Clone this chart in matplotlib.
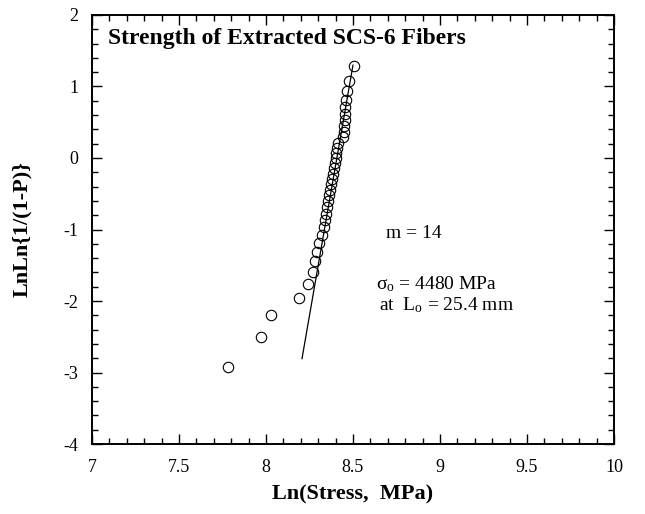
"""
Weibull plot of extracted SCS-6 fiber strengths
"""

import matplotlib
matplotlib.use('Agg')
import matplotlib.pyplot as plt
from matplotlib.ticker import MultipleLocator
import numpy as np

# ln(stress) and ln ln(1/(1-P))
ln_stress = [7.78, 7.97, 8.03, 8.19, 8.24, 8.27, 8.28, 8.295, 8.305, 8.32,
             8.333, 8.337, 8.345, 8.350, 8.358, 8.362, 8.369, 8.373, 8.380, 8.383,
             8.392, 8.394, 8.401, 8.404, 8.411, 8.416, 8.440, 8.448, 8.451, 8.452,
             8.455, 8.456, 8.458, 8.463, 8.475, 8.505]
lnln_p = [-2.918, -2.498, -2.196, -1.959, -1.761, -1.592, -1.442, -1.308, -1.186, -1.074,
          -0.969, -0.871, -0.778, -0.689, -0.604, -0.523, -0.443, -0.367, -0.291, -0.218,
          -0.145, -0.073, -0.002, 0.070, 0.142, 0.215, 0.289, 0.365, 0.443, 0.526,
          0.613, 0.707, 0.812, 0.932, 1.080, 1.291]

# fitted Weibull line
weibull_m = 14
sigma_0 = 4480  # MPa
fit_x = [8.207, 8.50]

plt.rcParams['font.family'] = ['Liberation Serif', 'DejaVu Serif']
plt.rcParams['mathtext.fontset'] = 'custom'
plt.rcParams['mathtext.rm'] = 'Liberation Serif'
plt.rcParams['mathtext.it'] = 'Liberation Serif:italic'

fig = plt.figure(figsize=(6.45, 5.14), dpi=100)
ax = fig.add_axes([0.1426, 0.136, 0.8093, 0.835])

fit_x = np.array(fit_x)
ax.plot(fit_x, weibull_m * (fit_x - np.log(sigma_0)), color='black', lw=0.9)
ax.plot(ln_stress, lnln_p, linestyle='none', marker='o', markersize=7.5,
        markerfacecolor='none', markeredgecolor='black', markeredgewidth=0.8)

ax.set_xlim(7, 10)
ax.set_ylim(-4, 2)
ax.xaxis.set_major_locator(MultipleLocator(0.5))
ax.xaxis.set_minor_locator(MultipleLocator(0.1))
ax.yaxis.set_major_locator(MultipleLocator(1))
ax.yaxis.set_minor_locator(MultipleLocator(0.2))
ax.xaxis.set_major_formatter(plt.FuncFormatter(lambda v, p: f'{v:g}'))
ax.yaxis.set_major_formatter(plt.FuncFormatter(lambda v, p: f'{v:g}'))
ax.tick_params(which='both', direction='in', top=True, right=True, labelsize=13, width=1.0)
ax.tick_params(which='major', length=7)
ax.tick_params(which='minor', length=4)
ax.tick_params(axis='x', pad=11)
ax.tick_params(axis='y', pad=10)
for spine in ax.spines.values():
    spine.set_linewidth(1.4)

ax.set_xlabel('Ln(Stress,  MPa)', fontsize=16, fontweight='bold', labelpad=6)
ax.set_ylabel('LnLn{1/(1-P)}', fontsize=16, fontweight='bold', labelpad=22)

ax.text(0.03, 0.97, 'Strength of Extracted SCS-6 Fibers', transform=ax.transAxes,
        fontsize=17, fontweight='bold', va='top', ha='left')
ax.text(8.69, -1.06, 'm = 14', fontsize=14, va='center')
ax.text(8.63, -1.76, r'σ$_\mathregular{o}$ = 4480 MPa', fontsize=14, va='center')
ax.text(8.65, -2.06, r'at  L$_\mathregular{o}$ = 25.4 mm', fontsize=14, va='center')

fig.savefig('out.png', dpi=100)
